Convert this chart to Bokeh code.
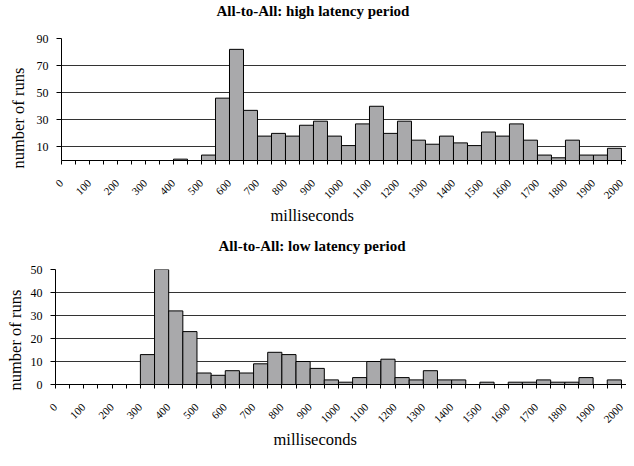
import math
from bokeh.plotting import figure
from bokeh.models import Range1d, FixedTicker, LinearAxis, Title
from bokeh.embed import file_html
from bokeh.resources import INLINE

# ---- data -------------------------------------------------------------
bin_starts = list(range(0, 2000, 50))          # histogram bins (ms), 50 ms wide
bin_width = 50
high_counts = [0, 0, 0, 0, 0, 0, 0, 0, 1, 0,
               4, 46, 82, 37, 18, 20, 18, 26, 29, 18,
               11, 27, 40, 20, 29, 15, 12, 18, 13, 11,
               21, 18, 27, 15, 4, 2, 15, 4, 4, 9]
low_counts = [0, 0, 0, 0, 0, 0, 13, 50, 32, 23,
              5, 4, 6, 5, 9, 14, 13, 10, 7, 2,
              1, 3, 10, 11, 3, 2, 6, 2, 2, 0,
              1, 0, 1, 1, 2, 1, 1, 3, 0, 2]
x_label_ticks = list(range(0, 2001, 100))
x_minor_ticks = list(range(50, 2000, 100))
high_y_ticks = [10, 30, 50, 70, 90]
low_y_ticks = [0, 10, 20, 30, 40, 50]

high_title = "All-to-All: high latency period"
low_title = "All-to-All: low latency period"
x_title = "milliseconds"
y_title = "number of runs"

SERIF = "Liberation Serif"


def spacer(size):
    """An unlabelled axis with one white (invisible) tick: only reserves room."""
    return LinearAxis(ticker=FixedTicker(ticks=[0]), major_tick_out=size, major_tick_in=0,
                      major_label_standoff=0, major_label_overrides={0: ""},
                      major_label_text_font_size="1px", major_label_text_color="white",
                      axis_line_color=None, major_tick_line_color="white",
                      minor_tick_line_color=None)


def panel(counts, title, y_max, y_ticks, x_end, height, borders,
          title_off, above_gap, title_so, ylab_off, ylab_so, xlab_off):
    b_left, b_top, b_bottom = borders
    p = figure(width=626, height=height, title=None,
               x_range=Range1d(0, x_end), y_range=Range1d(0, y_max),
               output_backend="svg", toolbar_location=None,
               min_border_left=b_left, min_border_right=0,
               min_border_top=b_top, min_border_bottom=b_bottom)
    p.outline_line_color = None
    p.background_fill_color = "white"
    p.border_fill_color = "white"

    rights = [b + bin_width for b in bin_starts]
    p.quad(left=bin_starts, right=rights, bottom=0, top=counts,
           fill_color="#A9A9AB", line_color="black", line_width=1)

    p.xgrid.visible = False
    p.ygrid.ticker = FixedTicker(ticks=y_ticks)
    p.ygrid.grid_line_color = "#333333"
    p.ygrid.grid_line_width = 1

    ya = p.yaxis[0]
    ya.ticker = FixedTicker(ticks=y_ticks)
    ya.axis_line_color = "black"
    ya.major_tick_out = 5
    ya.major_tick_in = 0
    ya.minor_tick_line_color = None
    ya.major_label_text_font = SERIF
    ya.major_label_text_font_size = "12px"
    ya.major_label_text_color = "black"
    ya.major_label_standoff = 8

    xa = p.xaxis[0]
    xa.ticker = FixedTicker(ticks=x_label_ticks, minor_ticks=x_minor_ticks)
    xa.axis_line_color = "black"
    xa.major_tick_out = 4
    xa.major_tick_in = 0
    xa.minor_tick_out = 4
    xa.minor_tick_in = 0
    xa.minor_tick_line_color = "black"
    xa.major_label_orientation = math.pi / 4
    xa.major_label_text_font = SERIF
    xa.major_label_text_font_size = "11px"
    xa.major_label_text_color = "black"
    xa.major_label_standoff = 17

    # chart title (above), kept clear of the frame by an empty spacer axis
    p.add_layout(spacer(above_gap), "above")
    p.add_layout(Title(text=title, align="left", offset=title_off, standoff=title_so,
                       vertical_align="bottom", text_font=SERIF,
                       text_font_style="bold", text_font_size="15px",
                       text_color="black"), "above")

    # y axis title
    p.add_layout(Title(text=y_title, align="left", offset=ylab_off, standoff=ylab_so,
                       vertical_align="bottom", text_font=SERIF,
                       text_font_style="normal", text_font_size="16.5px",
                       text_color="black"), "left")

    # x axis title
    p.add_layout(Title(text=x_title, align="left", offset=xlab_off, standoff=0,
                       vertical_align="top", text_font=SERIF,
                       text_font_style="normal", text_font_size="16.5px",
                       text_color="black"), "below")
    return p


p1 = panel(high_counts, high_title, 90, high_y_ticks, 2018, 226, (61, 38, 66),
           155, 25, -10, -8, 11, 209)
p2 = panel(low_counts, low_title, 50, low_y_ticks, 2018, 224, (54, 43, 65),
           163, 21, -10, -6, 6, 218)

open("out.html", "w").write(file_html([p1, p2], INLINE))
